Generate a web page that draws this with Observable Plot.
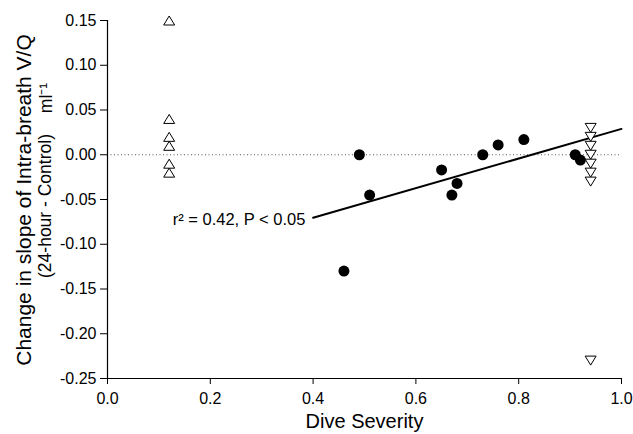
<!DOCTYPE html>
<html><head><meta charset="utf-8">
<script src="https://cdn.jsdelivr.net/npm/d3@7"></script>
<script src="https://cdn.jsdelivr.net/npm/@observablehq/plot@0.6"></script>
<style>
html,body{margin:0;padding:0;background:#fff;}
</style>
</head><body><div id="chart"></div>
<script>
// ---- data ----
const xTicks = [0, 0.2, 0.4, 0.6, 0.8, 1.0];
const yTicks = [0.15, 0.10, 0.05, 0, -0.05, -0.10, -0.15, -0.20, -0.25];
const upX = 0.12;
const upY = [0.15, 0.04, 0.02, 0.01, -0.01, -0.02];
const downX = 0.94;
const downY = [0.03, 0.02, 0.01, 0.0, -0.01, -0.02, -0.03, -0.23];
const dotX = [0.46, 0.49, 0.51, 0.65, 0.67, 0.68, 0.73, 0.76, 0.81, 0.91, 0.92];
const dotY = [-0.13, 0.0, -0.045, -0.017, -0.045, -0.032, 0.0, 0.011, 0.017, 0.0, -0.006];
const fitRange = [0.4, 1.0];
const annotation = "r² = 0.42, P < 0.05";
const annotationAt = {x: 0.385, y: -0.073};
const xLabel = "Dive Severity";
const yLabel1 = "Change in slope of Intra-breath V/Q";
const yLabel2 = "(24-hour - Control)";
const yUnit = "ml⁻¹";

// ---- derived tables ----
const ups = upY.map(y => ({x: upX, y}));
const downs = downY.map(y => ({x: downX, y}));
const dots = dotX.map((x, i) => ({x, y: dotY[i]}));
const mx = d3.mean(dotX), my = d3.mean(dotY);
const slope = d3.sum(dots, d => (d.x - mx) * (d.y - my)) / d3.sum(dotX, x => (x - mx) ** 2);
const intercept = my - slope * mx;
const fit = fitRange.map(x => ({x, y: intercept + slope * x}));

const triUp = {draw(ctx, size) {
  const r = Math.sqrt(size / Math.PI);
  ctx.moveTo(0, -r); ctx.lineTo(1.22 * r, r); ctx.lineTo(-1.22 * r, r); ctx.closePath();
}};
const triDown = {draw(ctx, size) {
  const r = Math.sqrt(size / Math.PI);
  ctx.moveTo(0, r); ctx.lineTo(1.22 * r, -r); ctx.lineTo(-1.22 * r, -r); ctx.closePath();
}};

const font = "'Liberation Sans', Arial, sans-serif";
const chart = Plot.plot({
  width: 633, height: 434,
  marginLeft: 107, marginRight: 12, marginTop: 20, marginBottom: 56,
  style: {fontFamily: font, fontSize: "16px", color: "black", background: "white"},
  x: {domain: [0, 1], ticks: xTicks, tickFormat: d => d.toFixed(1)},
  y: {domain: [-0.25, 0.15], ticks: yTicks, tickFormat: d => d.toFixed(2)},
  marks: [
    Plot.ruleY([0], {stroke: "#555", strokeDasharray: "1,2.5", strokeWidth: 1}),
    Plot.ruleX([0], {stroke: "black", strokeWidth: 1.2}),
    Plot.ruleY([-0.25], {stroke: "black", strokeWidth: 1.2}),
    Plot.axisX({ticks: xTicks, tickFormat: d => d.toFixed(1), tickSize: 6, tickPadding: 8, label: null, fontSize: 16}),
    Plot.axisY({ticks: yTicks, tickFormat: d => d.toFixed(2), tickSize: 7, tickPadding: 4, label: null, fontSize: 16}),
    Plot.line(fit, {x: "x", y: "y", stroke: "black", strokeWidth: 2}),
    Plot.dot(dots, {x: "x", y: "y", r: 5.5, fill: "black", stroke: "none"}),
    Plot.dot(ups, {x: "x", y: "y", r: 4.5, symbol: triUp, fill: "white", stroke: "black", strokeWidth: 1}),
    Plot.dot(downs, {x: "x", y: "y", r: 4.5, symbol: triDown, fill: "white", stroke: "black", strokeWidth: 1}),
    Plot.text([annotation], {x: () => annotationAt.x, y: () => annotationAt.y, text: d => d, textAnchor: "end", fontSize: 16.5, fill: "black"}),
    Plot.text([xLabel], {frameAnchor: "bottom", text: d => d, dy: 49, fontSize: 20, fill: "black"})
  ]
});
document.getElementById("chart").appendChild(chart);

// rotated y-axis title lines
const svg = d3.select(chart);
const addV = (txt, x, y, size) => svg.append("text")
  .attr("transform", `translate(${x},${y}) rotate(-90)`)
  .attr("text-anchor", "middle")
  .attr("dy", "0.35em")
  .attr("font-family", font)
  .attr("font-size", size)
  .attr("fill", "black")
  .text(txt);
addV(yLabel1, 24, 200, 21);
addV(yLabel2, 45, 206, 17.5);
addV(yUnit, 46, 98, 17.5);
</script>
</body></html>
